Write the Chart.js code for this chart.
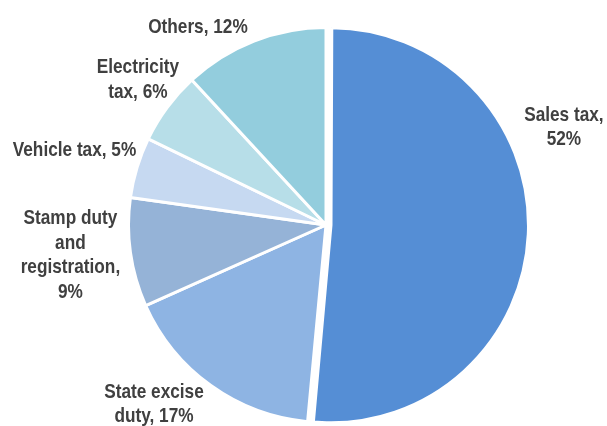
<!DOCTYPE html>
<html>
<head>
<meta charset="utf-8">
<script src="https://cdn.jsdelivr.net/npm/chart.js@4.4.1/dist/chart.umd.min.js"></script>
<style>
  html, body { margin: 0; padding: 0; background: #fff; overflow: hidden; }
</style>
</head>
<body>
<canvas id="taxPie" width="607" height="426"></canvas>
<script>
'use strict';

// Slices, clockwise from 12 o'clock
var categories = ['Sales tax', 'State excise duty', 'Stamp duty and registration', 'Vehicle tax', 'Electricity tax', 'Others'];
var shares = [52, 17, 9, 5, 6, 12];
var sliceColors = ['#558ED5', '#8EB4E3', '#95B3D7', '#C6D9F1', '#B7DEE8', '#93CDDD'];
var sliceOffset = [20, 0, 0, 0, 0, 0]; // sales tax pulled out a little

// Label text as printed (value appended with %)
var labelText = ['Sales tax,\n', 'State excise\nduty, ', 'Stamp duty\nand\nregistration,\n', 'Vehicle tax, ', 'Electricity\ntax, ', 'Others, '];
// label block placement: angle clockwise from top (deg), distance in radii
var labelAngle = [67.7, 223.8, 263.3, 286.6, 307.7, 327.1];
var labelDist = [1.312, 1.268, 1.313, 1.339, 1.213, 1.203];

var BORDER = 3;

// v4 enlarges an offset arc wider than 180deg; keep it the same size as the rest
var keepRadius = {
  id: 'keepRadius',
  beforeDatasetsDraw: function(chart) {
    var meta = chart.getDatasetMeta(0);
    var base = meta.controller.outerRadius;
    meta.data.forEach(function(a) {
      var off = a.options.offset || 0;
      a.outerRadius = (off && a.circumference > Math.PI) ? base - off / 4 : base;
    });
  }
};

var sliceLabels = {
  id: 'sliceLabels',
  afterDatasetsDraw: function(chart) {
    var ctx = chart.ctx;
    var meta = chart.getDatasetMeta(0);
    var cx = meta.data[0].x, cy = meta.data[0].y;
    var r = meta.controller.outerRadius - BORDER / 2;
    var lh = 24.5;
    ctx.save();
    ctx.fillStyle = '#404040';
    ctx.font = 'bold 21px "Liberation Sans", Arial, sans-serif';
    ctx.textAlign = 'center';
    ctx.textBaseline = 'middle';
    for (var i = 0; i < shares.length; i++) {
      var lines = (labelText[i] + shares[i] + '%').split('\n');
      var a = labelAngle[i] * Math.PI / 180;
      var x = cx + Math.sin(a) * r * labelDist[i];
      var y = cy - Math.cos(a) * r * labelDist[i];
      var y0 = y - (lines.length - 1) * lh / 2;
      lines.forEach(function(t, k) {
        ctx.save();
        ctx.translate(x, y0 + k * lh);
        ctx.scale(0.82, 1); // narrow face
        ctx.fillText(t, 0, 0);
        ctx.restore();
      });
    }
    ctx.restore();
  }
};

new Chart(document.getElementById('taxPie'), {
  type: 'pie',
  data: {
    labels: categories,
    datasets: [{
      data: shares,
      backgroundColor: sliceColors,
      borderColor: '#ffffff',
      borderWidth: BORDER,
      offset: sliceOffset
    }]
  },
  options: {
    responsive: false,
    animation: false,
    radius: 197.5,
    layout: { padding: { left: 45, right: 0, top: 24, bottom: 0 } },
    plugins: {
      legend: { display: false },
      tooltip: { enabled: false }
    }
  },
  plugins: [keepRadius, sliceLabels]
});
</script>
</body>
</html>
